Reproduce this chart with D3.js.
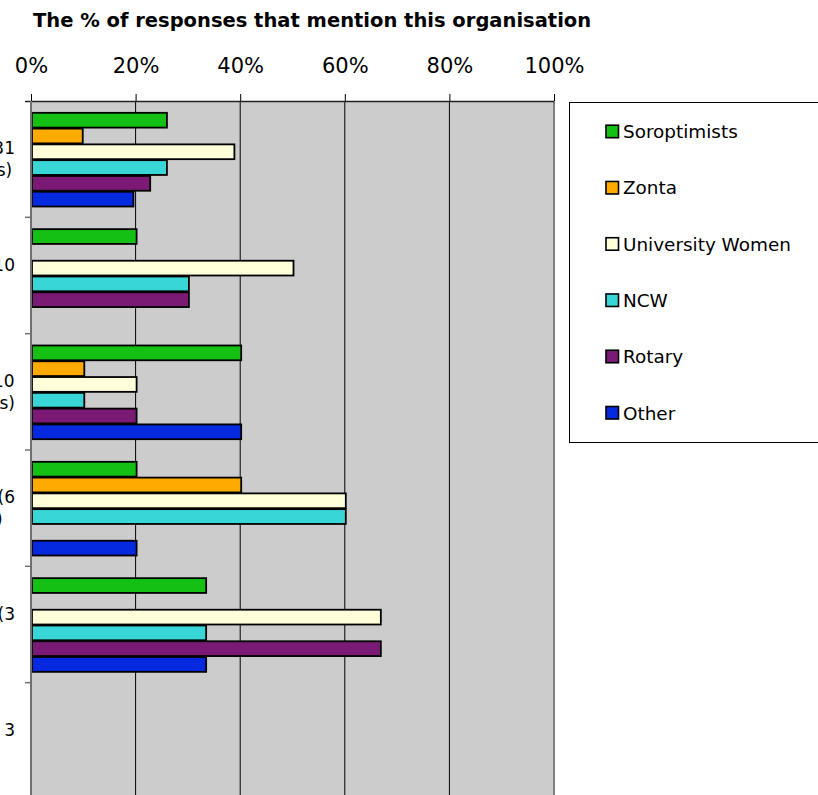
<!DOCTYPE html>
<html>
<head>
<meta charset="utf-8">
<script src="https://cdn.jsdelivr.net/npm/d3@7"></script>
<style>
  body { margin: 0; background: #fff; }
  svg { display: block; font-family: "DejaVu Sans", Verdana, sans-serif; }
</style>
</head>
<body>
<svg id="chart" width="818" height="795"></svg>
<script>
// category labels (wrapped lines), top to bottom
const categories = [
  ['Total (n=31', 'responses)'],
  ['Urban (n=10', 'resp.)'],
  ['City (n=10', 'responses)'],
  ['Small town (6', 'responses)'],
  ['Rural areas (3', 'resp.)'],
  ['Region not stated 3', 'resp.']
];

const seriesNames = ['Soroptimists', 'Zonta', 'University Women', 'NCW', 'Rotary', 'Other'];
const seriesColors = ['#14c014', '#ffaa00', '#ffffd9', '#38d6d6', '#7a1a75', '#0529de'];

// % of responses, one array per organisation, in category order
const soroptimists = [25.8, 20, 40, 20, 33.3, 0];
const zonta        = [9.7, 0, 10, 40, 0, 0];
const universityW  = [38.7, 50, 20, 60, 66.7, 0];
const ncw          = [25.8, 30, 10, 60, 33.3, 0];
const rotary       = [22.6, 30, 20, 0, 66.7, 0];
const other        = [19.4, 0, 40, 20, 33.3, 0];

const seriesValues = [soroptimists, zonta, universityW, ncw, rotary, other];
const xTicks = [0, 20, 40, 60, 80, 100];

const margin = ({top: 101, left: 31});
const plotW = 523;
const plotH = 698;

const svg = d3.select('#chart');

const xScale = d3.scaleLinear()
    .domain([0, 100])
    .range([margin.left, margin.left + plotW]);

const yScale = d3.scaleBand()
    .domain(d3.range(categories.length))
    .range([margin.top, margin.top + plotH])
    .paddingInner(0.186)
    .paddingOuter(0.093);

const ySub = d3.scaleBand()
    .domain(seriesNames)
    .range([0, yScale.bandwidth()]);

const color = d3.scaleOrdinal()
    .domain(seriesNames)
    .range(seriesColors);

// title
svg.append('text')
    .attr('x', 33)
    .attr('y', 27)
    .style('font-weight', 'bold')
    .style('font-size', '19.5px')
    .attr('fill', '#000')
    .text('The % of responses that mention this organisation');

// plot background
svg.append('rect')
    .attr('x', margin.left)
    .attr('y', margin.top)
    .attr('width', plotW)
    .attr('height', plotH)
    .attr('fill', '#cccccc');

// gridlines
svg.append('g')
    .selectAll('line')
    .data(xTicks.slice(1, -1))
    .join('line')
    .attr('x1', d => xScale(d))
    .attr('x2', d => xScale(d))
    .attr('y1', margin.top)
    .attr('y2', margin.top + plotH)
    .attr('stroke', '#000')
    .attr('stroke-width', 1);

// right border
svg.append('line')
    .attr('x1', xScale(100)).attr('x2', xScale(100))
    .attr('y1', margin.top).attr('y2', margin.top + plotH)
    .attr('stroke', '#808080')
    .attr('stroke-width', 2);

// bars
const rows = categories.map((c, i) => ({
    index: i,
    values: seriesNames.map((s, j) => ({key: s, value: seriesValues[j][i]}))
}));

svg.append('g')
    .selectAll('g')
    .data(rows)
    .join('g')
    .attr('transform', d => `translate(0, ${yScale(d.index)})`)
    .selectAll('rect')
    .data(d => d.values.filter(v => v.value > 0))
    .join('rect')
    .attr('x', xScale(0) + 1)
    .attr('y', d => ySub(d.key) + 1)
    .attr('width', d => xScale(d.value) - xScale(0))
    .attr('height', ySub.bandwidth() - 1)
    .attr('fill', d => color(d.key))
    .attr('stroke', '#000')
    .attr('stroke-width', 1.8);

// top axis
const xAxis = d3.axisTop(xScale)
    .tickValues(xTicks)
    .tickSize(7)
    .tickPadding(21)
    .tickFormat(d => d + '%');

svg.append('g')
    .attr('transform', `translate(0, ${margin.top})`)
    .call(xAxis)
    .call(g => g.select('.domain').attr('stroke', '#222').attr('stroke-width', 1.5)
        .attr('d', `M${margin.left - 6},0.5H${margin.left + plotW}`))
    .call(g => g.selectAll('.tick line').attr('stroke', '#000'))
    .call(g => g.selectAll('.tick text')
        .style('font-size', '21px')
        .style('font-family', '"DejaVu Sans", Verdana, sans-serif')
        .attr('fill', '#000'));

// left axis
const yAxis = d3.axisLeft(yScale).tickSize(0).tickFormat('');
const leftG = svg.append('g')
    .attr('transform', `translate(${margin.left}, 0)`)
    .call(yAxis)
    .call(g => g.select('.domain').attr('stroke', '#707070').attr('stroke-width', 2)
        .attr('d', `M0,${margin.top}V${margin.top + plotH}`));

// category boundary ticks
leftG.append('g')
    .selectAll('line')
    .data(d3.range(1, categories.length))
    .join('line')
    .attr('x1', -6).attr('x2', 0)
    .attr('y1', d => margin.top + d * yScale.step())
    .attr('y2', d => margin.top + d * yScale.step())
    .attr('stroke', '#707070')
    .attr('stroke-width', 1.5);

// category labels: lines centred inside a block that is right aligned to x=15
const labelG = svg.append('g')
    .style('font-size', '17px')
    .attr('fill', '#000');

categories.forEach((lines, i) => {
    const cy = yScale(i) + yScale.bandwidth() / 2;
    const lh = 22;
    const t = labelG.append('text').attr('y', cy - (lines.length - 1) * lh / 2 + 6);
    t.selectAll('tspan')
        .data(lines)
        .join('tspan')
        .attr('dy', (d, k) => k === 0 ? 0 : lh)
        .text(d => d);
    const widths = [];
    t.selectAll('tspan').each(function () { widths.push(this.getComputedTextLength()); });
    const maxW = d3.max(widths);
    const cx = 15 - maxW / 2;
    t.selectAll('tspan')
        .attr('x', cx)
        .attr('text-anchor', 'middle');
});

// legend
const legendG = svg.append('g');
legendG.append('rect')
    .attr('x', 569.5)
    .attr('y', 102.5)
    .attr('width', 300)
    .attr('height', 340)
    .attr('fill', '#fff')
    .attr('stroke', '#000')
    .attr('stroke-width', 1);

const legendY = d3.scalePoint()
    .domain(seriesNames)
    .range([131.7, 413]);

const items = legendG.selectAll('g.item')
    .data(seriesNames)
    .join('g')
    .attr('class', 'item')
    .attr('transform', d => `translate(606, ${legendY(d)})`);

items.append('rect')
    .attr('x', 0)
    .attr('y', -6.5)
    .attr('width', 12.5)
    .attr('height', 12.5)
    .attr('fill', d => color(d))
    .attr('stroke', '#000')
    .attr('stroke-width', 1.6);

items.append('text')
    .attr('x', 17)
    .attr('y', 6.5)
    .style('font-size', '18.4px')
    .attr('fill', '#000')
    .text(d => d);
</script>
</body>
</html>
